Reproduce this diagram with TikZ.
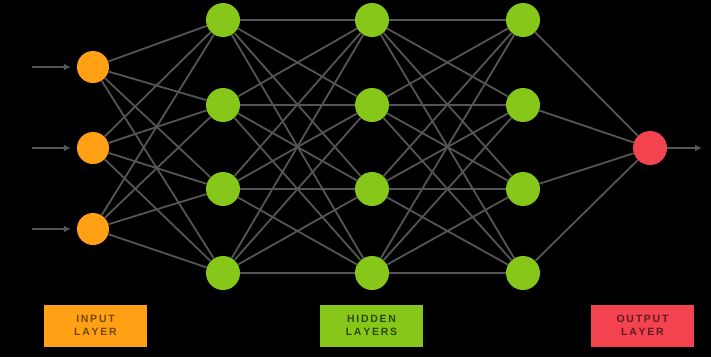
\documentclass[tikz,border=0pt]{standalone}
\usepackage{fontspec}
\setmainfont{Liberation Sans}
\usetikzlibrary{arrows.meta}
\definecolor{inorange}{HTML}{FFA015}
\definecolor{hidgreen}{HTML}{86C71A}
\definecolor{outred}{HTML}{F2434F}
\definecolor{edgegray}{HTML}{555555}
\tikzset{
  neuron/.style={circle, minimum size=33pt, inner sep=0pt, draw=none},
  innode/.style={neuron, fill=inorange, minimum size=32pt},
  hidnode/.style={neuron, fill=hidgreen, minimum size=34pt},
  outnode/.style={neuron, fill=outred, minimum size=34pt},
  edge/.style={draw=edgegray, line width=1.8pt},
  feed/.style={draw=edgegray, line width=2.4pt, -{Latex[length=7pt,width=7pt]}},
  labelbox/.style={minimum width=103pt, minimum height=42pt, inner sep=0pt, align=center,
    font=\fontsize{10.5}{12.5}\selectfont\bfseries},
}
\begin{document}
\begin{tikzpicture}[x=1pt,y=-1pt]
\fill[black] (0,0) rectangle (711,357);
\useasboundingbox (0,0) rectangle (711,357);
% input
\foreach \i/\y in {1/67,2/148,3/229}
  \node[innode] (i\i) at (93,\y) {};
% hidden
\foreach \l/\x in {1/223,2/372,3/523}
  \foreach \j/\y in {1/20,2/105,3/189,4/273}
    \node[hidnode] (h\l\j) at (\x,\y) {};
\node[outnode] (o) at (650,148) {};
% edges
\foreach \i in {1,2,3}
  \foreach \j in {1,2,3,4}
    \draw[edge] (i\i) -- (h1\j);
\foreach \a/\b in {1/2,2/3}
  \foreach \i in {1,2,3,4}
    \foreach \j in {1,2,3,4}
      \draw[edge] (h\a\i) -- (h\b\j);
\foreach \j in {1,2,3,4}
  \draw[edge] (h3\j) -- (o);
% feeds
\foreach \i/\y in {1/67,2/148,3/229}{
  \coordinate (s\i) at (32,\y);
  \draw[feed] (s\i) -- ([xshift=-6pt]i\i.west);
}
\coordinate (e) at (702,148);
\draw[feed] (o) -- (e);
% labels
\node[labelbox, fill=inorange, text=inorange!45!black] (li) at (95.5,325.5) {I\,N\,P\,U\,T\\L\,A\,Y\,E\,R};
\node[labelbox, fill=hidgreen, text=hidgreen!35!black] (lh) at (371.5,325.5) {H\,I\,D\,D\,E\,N\\L\,A\,Y\,E\,R\,S};
\node[labelbox, fill=outred, text=outred!40!black] (lo) at (642.5,325.5) {O\,U\,T\,P\,U\,T\\L\,A\,Y\,E\,R};
\end{tikzpicture}
\end{document}
